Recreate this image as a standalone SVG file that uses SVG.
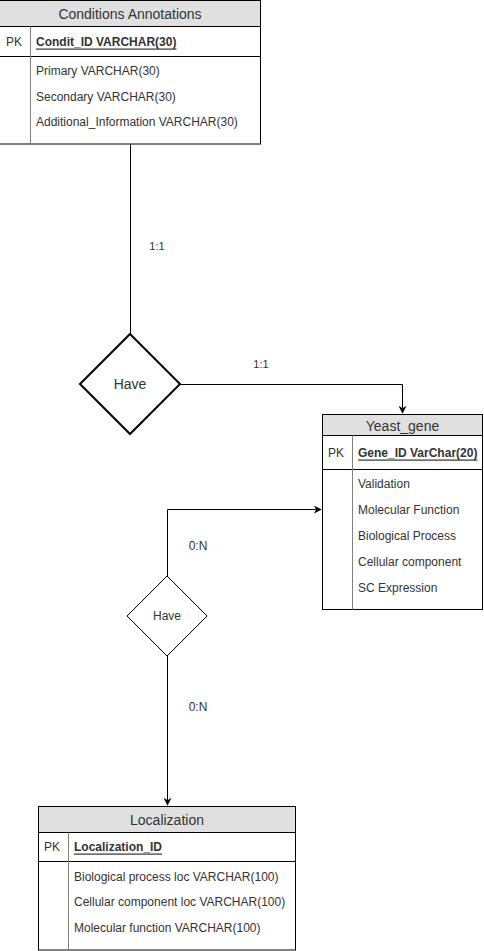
<svg xmlns="http://www.w3.org/2000/svg" width="484" height="951" viewBox="0 0 484 951">
  <style>
    .box { fill: #ffffff; stroke: #000000; stroke-width: 1; }
    .head { fill: #e0e0e0; stroke: #000000; stroke-width: 1; }
    .div { stroke: #000000; stroke-width: 1; fill: none; }
    .sep { stroke: #808080; stroke-width: 1; fill: none; }
    .title { font-family: "Liberation Sans", Arial, sans-serif; font-size: 14px; fill: #333333; text-anchor: middle; dominant-baseline: central; }
    .field { font-family: "Liberation Sans", Arial, sans-serif; font-size: 12px; fill: #333333; dominant-baseline: central; }
    .pk { font-weight: bold; text-decoration: underline; }
    .lbl { font-family: "Liberation Sans", Arial, sans-serif; font-size: 11px; fill: #333333; text-anchor: middle; dominant-baseline: central; }
    .lbl-n { font-size: 12px; }
    .rel { font-family: "Liberation Sans", Arial, sans-serif; font-size: 14px; fill: #333333; text-anchor: middle; dominant-baseline: central; }
    .rel-s { font-size: 12px; }
    .edge { stroke: #000000; stroke-width: 1; fill: none; }
  </style>
  <defs>
    <marker id="arrow" viewBox="0 0 10 10" refX="9" refY="5" markerWidth="8" markerHeight="8" markerUnits="userSpaceOnUse" orient="auto">
      <path d="M0,0 L10,5 L0,10 L3,5 Z" fill="#000000"/>
    </marker>
  </defs>

  <!-- connectors -->
  <g id="connectors">
    <path class="edge" d="M130.5,144 L130.5,334"/>
    <path class="edge" d="M180,384.5 L402.5,384.5 L402.5,413" marker-end="url(#arrow)"/>
    <path class="edge" d="M167.5,576 L167.5,509.5 L321,509.5" marker-end="url(#arrow)"/>
    <path class="edge" d="M167.5,656 L167.5,805" marker-end="url(#arrow)"/>
    <text class="lbl" x="157" y="246">1:1</text>
    <text class="lbl" x="261" y="364">1:1</text>
    <text class="lbl lbl-n" x="198" y="546">0:N</text>
    <text class="lbl lbl-n" x="198" y="707">0:N</text>
  </g>

  <!-- entity: Conditions Annotations -->
  <g id="conditions-annotations">
    <rect class="box" x="-0.5" y="0.5" width="261" height="143.5"/>
    <rect class="head" x="-0.5" y="0.5" width="261" height="26"/>
    <line class="div" x1="0" y1="56.5" x2="261" y2="56.5"/>
    <line class="sep" x1="30.5" y1="26.5" x2="30.5" y2="144"/>
    <text class="title" x="130" y="13.5">Conditions Annotations</text>
    <text class="field" x="6" y="41.5">PK</text>
    <text class="field pk" x="36" y="41.5">Condit_ID VARCHAR(30)</text>
    <text class="field" x="36" y="70.5">Primary VARCHAR(30)</text>
    <text class="field" x="36" y="96.5">Secondary VARCHAR(30)</text>
    <text class="field" x="36" y="121.5">Additional_Information VARCHAR(30)</text>
  </g>

  <!-- relationship: Have (1:1) -->
  <g id="have-1">
    <polygon points="130,334 180,384 130,434 80,384" fill="#ffffff" stroke="#000000" stroke-width="2"/>
    <text class="rel" x="130" y="384">Have</text>
  </g>

  <!-- entity: Yeast_gene -->
  <g id="yeast-gene">
    <rect class="box" x="322.5" y="414.5" width="160" height="195"/>
    <rect class="head" x="322.5" y="414.5" width="160" height="21"/>
    <line class="div" x1="322.5" y1="469.5" x2="482.5" y2="469.5"/>
    <line class="sep" x1="352.5" y1="435.5" x2="352.5" y2="609.5"/>
    <text class="title" x="402.5" y="426">Yeast_gene</text>
    <text class="field" x="328" y="452.5">PK</text>
    <text class="field pk" x="358" y="452.5">Gene_ID VarChar(20)</text>
    <text class="field" x="358" y="483.5">Validation</text>
    <text class="field" x="358" y="509.5">Molecular Function</text>
    <text class="field" x="358" y="535.5">Biological Process</text>
    <text class="field" x="358" y="561.5">Cellular component</text>
    <text class="field" x="358" y="587.5">SC Expression</text>
  </g>

  <!-- relationship: Have (0:N) -->
  <g id="have-2">
    <polygon points="167,576 207,616 167,656 127,616" fill="#ffffff" stroke="#000000" stroke-width="1"/>
    <text class="rel rel-s" x="167" y="616">Have</text>
  </g>

  <!-- entity: Localization -->
  <g id="localization">
    <rect class="box" x="38.5" y="806.5" width="257" height="143.5"/>
    <rect class="head" x="38.5" y="806.5" width="257" height="26"/>
    <line class="div" x1="38.5" y1="861.5" x2="295.5" y2="861.5"/>
    <line class="sep" x1="68.5" y1="832.5" x2="68.5" y2="950"/>
    <text class="title" x="167" y="819.5">Localization</text>
    <text class="field" x="44" y="846.5">PK</text>
    <text class="field pk" x="74" y="846.5">Localization_ID</text>
    <text class="field" x="74" y="876.5">Biological process loc VARCHAR(100)</text>
    <text class="field" x="74" y="901.5">Cellular component loc VARCHAR(100)</text>
    <text class="field" x="74" y="927.5">Molecular function VARCHAR(100)</text>
  </g>
</svg>
